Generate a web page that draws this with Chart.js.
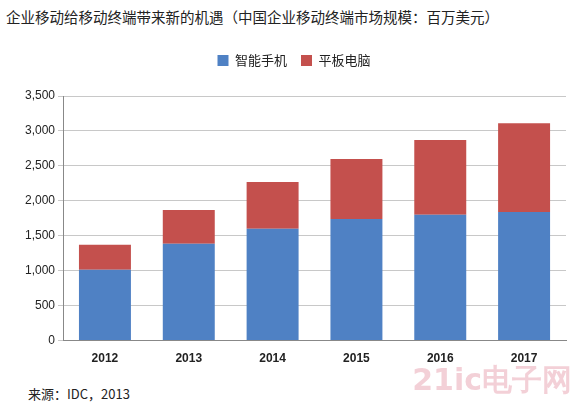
<!DOCTYPE html>
<html><head><meta charset="utf-8">
<script src="https://cdn.jsdelivr.net/npm/chart.js@4"></script>
<style>
body{margin:0;background:#fff;font-family:"Noto Sans CJK SC",sans-serif;}
#wrap{position:relative;width:580px;height:407px;}
#t{position:absolute;left:6px;top:6px;font-size:14.5px;color:#222;white-space:nowrap;}
#s{position:absolute;left:28px;top:384px;font-size:13px;color:#222;}
#w{position:absolute;right:8px;top:360px;font-size:30px;font-weight:bold;color:rgba(220,120,140,0.35);font-family:"DejaVu Sans";}
#c{position:absolute;left:0;top:40px;}
</style></head><body>
<div id="wrap">
<div id="t">企业移动给移动终端带来新的机遇（中国企业移动终端市场规模：百万美元）</div>
<canvas id="c" width="580" height="335"></canvas>
<div id="s">来源：IDC，2013</div>
<div id="w">21ic电子网</div>
</div>
<script>
const categories=["2012","2013","2014","2015","2016","2017"];
const smartphone=[1015,1385,1600,1740,1800,1840];
const tablet=[355,485,670,860,1070,1270];
const yTicks=[0,500,1000,1500,2000,2500,3000,3500];
new Chart(document.getElementById('c'),{
type:'bar',
data:{labels:categories,datasets:[
{label:'智能手机',data:smartphone,backgroundColor:'#4f81c4',categoryPercentage:1,barPercentage:0.62},
{label:'平板电脑',data:tablet,backgroundColor:'#c4504d',categoryPercentage:1,barPercentage:0.62}]},
options:{responsive:false,animation:false,
layout:{padding:{left:22,right:14,top:0,bottom:6}},
plugins:{legend:{position:'top',labels:{boxWidth:11,boxHeight:11,font:{size:13,family:'Noto Sans CJK SC'},color:'#222',padding:14}},tooltip:{enabled:false}},
scales:{
x:{stacked:true,grid:{display:false},border:{color:'#888'},ticks:{font:{size:12,weight:'bold'},color:'#222'}},
y:{stacked:true,min:0,max:3500,afterBuildTicks:a=>{a.ticks=yTicks.map(v=>({value:v}));},
grid:{color:'#c8c8c8',tickLength:5},border:{display:true,color:'#888'},
ticks:{font:{size:12},color:'#222',callback:v=>v.toLocaleString('en-US')}}}}
,plugins:[{id:'lg',beforeInit(c){const f=c.legend.fit;c.legend.fit=function(){f.call(this);this.height+=19;};}}]
});
</script></body></html>
